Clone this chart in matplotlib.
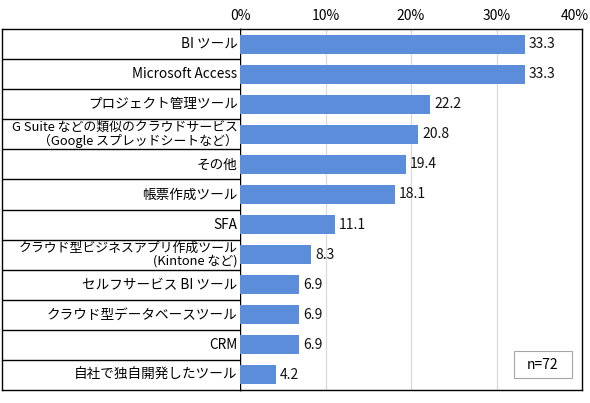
import numpy as np
import matplotlib.pyplot as plt
from matplotlib.patches import Rectangle
from matplotlib.transforms import ScaledTranslation

plt.rcParams['font.family'] = ['Noto Sans CJK JP', 'DejaVu Sans']

# survey result (percent), n=72
labels = [
    'BI ツール',
    'Microsoft Access',
    'プロジェクト管理ツール',
    'G Suite などの類似のクラウドサービス\n（Google スプレッドシートなど）',
    'その他',
    '帳票作成ツール',
    'SFA',
    'クラウド型ビジネスアプリ作成ツール\n(Kintone など)',
    'セルフサービス BI ツール',
    'クラウド型データベースツール',
    'CRM',
    '自社で独自開発したツール',
]
values = [33.3, 33.3, 22.2, 20.8, 19.4, 18.1, 11.1, 8.3, 6.9, 6.9, 6.9, 4.2]
xticks = [0, 10, 20, 30, 40]
sample_note = 'n=72'

W, H = 590, 403
fig = plt.figure(figsize=(W / 100, H / 100), dpi=100)

left, right, top, bottom = 240, 582, 29, 390
lab_left = 2

ax = fig.add_axes([left / W, 1 - bottom / H, (right - left) / W, (bottom - top) / H])
lab = fig.add_axes([lab_left / W, 1 - bottom / H, (left - lab_left) / W, (bottom - top) / H])

y = np.arange(len(values))

# bars
ax.barh(y, values, height=0.63, color='#5B8DDB', zorder=3)
for yi, v in zip(y, values):
    ax.text(v + 0.5, yi, f'{v:.1f}', va='center', ha='left', fontsize=10, color='#111111')

ax.set_xlim(0, 40)
ax.set_ylim(len(values) - 0.5, -0.5)
ax.set_xticks(xticks)
ax.set_xticklabels([f'{t}%' for t in xticks], fontsize=10)
ax.xaxis.tick_top()
ax.tick_params(axis='x', length=0, pad=4)
# last tick label pulled in so it stays inside the figure
last = ax.get_xticklabels()[-1]
last.set_transform(last.get_transform() + ScaledTranslation(-0.07, 0, fig.dpi_scale_trans))
ax.set_yticks([])
for t in xticks[1:-1]:
    ax.axvline(t, color='#D9D9D9', linewidth=0.9, zorder=1)
for s in ax.spines.values():
    s.set_color('black')
    s.set_linewidth(1.0)

# sample size box
ax.add_patch(Rectangle((0.801, 0.033), 0.170, 0.075, transform=ax.transAxes,
                       facecolor='white', edgecolor='#A6A6A6', linewidth=0.8, zorder=4))
ax.text(0.886, 0.0705, sample_note, transform=ax.transAxes, ha='center', va='center',
        fontsize=10, zorder=5)

# label column with row separators
lab.set_xlim(0, 1)
lab.set_ylim(len(values) - 0.5, -0.5)
lab.set_xticks([])
lab.set_yticks([])
for k in range(len(values) - 1):
    lab.axhline(k + 0.5, color='black', linewidth=1.0)
for yi, name in zip(y, labels):
    size = 9.3 if '\n' in name else 9.8
    lab.text(0.99, yi, name, ha='right', va='center', fontsize=size, linespacing=1.0)
lab.spines['right'].set_visible(False)
for s in lab.spines.values():
    s.set_color('black')
    s.set_linewidth(1.0)

fig.savefig('out.png', dpi=100)
